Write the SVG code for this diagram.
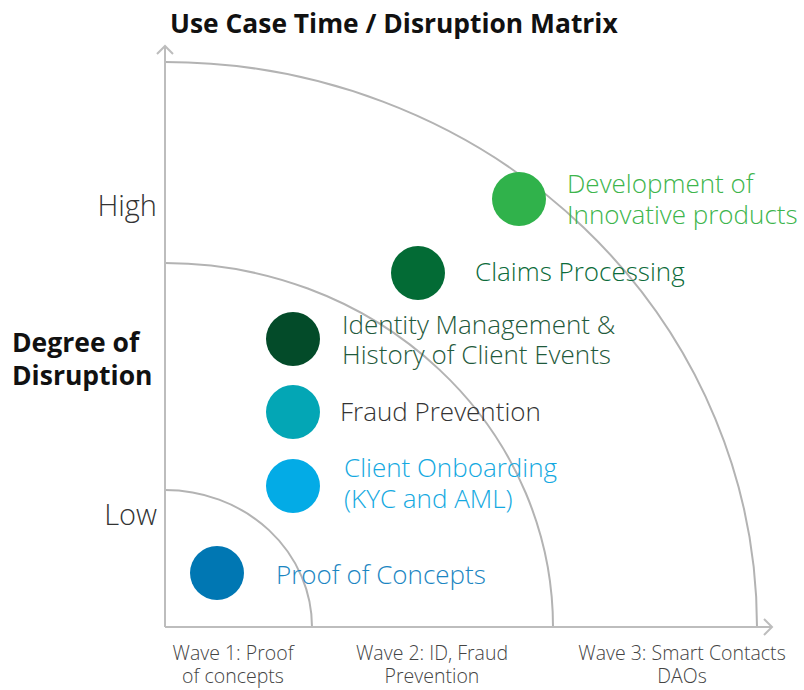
<svg xmlns="http://www.w3.org/2000/svg" width="804" height="690" viewBox="0 0 804 690">
  <style>
    .title { font-family: "Open Sans", "Liberation Sans", sans-serif; font-weight: 700; fill: #111; }
    .lbl { font-family: "Open Sans", "Liberation Sans", sans-serif; font-weight: 300; font-size: 26px; }
    .axis-lbl { font-family: "Open Sans", "Liberation Sans", sans-serif; font-weight: 300; font-size: 19.5px; fill: #444; text-anchor: middle; }
    .lvl { font-family: "Open Sans", "Liberation Sans", sans-serif; font-weight: 300; font-size: 29px; fill: #333; text-anchor: end; }
    .axis { stroke: #bdbdbd; stroke-width: 2; fill: none; }
    .arc { stroke: #b3b3b3; stroke-width: 2; fill: none; }
  </style>

  <!-- title -->
  <text class="title" x="170" y="33" font-size="26.4">Use Case Time / Disruption Matrix</text>

  <!-- vertical axis labels -->
  <text class="lvl" x="157" y="216">High</text>
  <text class="lvl" x="157" y="525">Low</text>
  <text class="title" font-size="26.5"><tspan x="12" y="352">Degree of</tspan><tspan x="12" y="385">Disruption</tspan></text>

  <!-- axes and wave boundaries -->
  <g id="connectors">
    <path class="arc" d="M165,62 A592,565 0 0 1 757,627"/>
    <path class="arc" d="M165,263 A388,364 0 0 1 553,627"/>
    <path class="arc" d="M165,490 A147,137 0 0 1 312,627"/>
    <path class="axis" d="M165,627 V46 M157,54 L165,46 L173,54"/>
    <path class="axis" d="M165,627 H772 M764,619 L772,627 L764,635"/>
  </g>

  <!-- horizontal axis labels -->
  <text class="axis-lbl"><tspan x="233" y="660">Wave 1: Proof</tspan><tspan x="233" y="683">of concepts</tspan></text>
  <text class="axis-lbl"><tspan x="432" y="660">Wave 2: ID, Fraud</tspan><tspan x="432" y="683">Prevention</tspan></text>
  <text class="axis-lbl"><tspan x="682" y="660">Wave 3: Smart Contacts</tspan><tspan x="682" y="683">DAOs</tspan></text>

  <!-- use cases -->
  <g id="development">
    <circle cx="519" cy="199" r="27" fill="#30b24b"/>
    <text class="lbl" fill="#3db54c"><tspan x="567" y="193">Development of</tspan><tspan x="567" y="224">Innovative products</tspan></text>
  </g>
  <g id="claims">
    <circle cx="418" cy="273" r="27" fill="#036b35"/>
    <text class="lbl" fill="#0b6b3a" x="475" y="281">Claims Processing</text>
  </g>
  <g id="identity">
    <circle cx="293" cy="339" r="27" fill="#034b29"/>
    <text class="lbl" fill="#1f5a3c"><tspan x="342" y="334">Identity Management &amp;</tspan><tspan x="342" y="364">History of Client Events</tspan></text>
  </g>
  <g id="fraud">
    <circle cx="293" cy="412" r="27" fill="#03a6b5"/>
    <text class="lbl" fill="#333" x="340" y="421">Fraud Prevention</text>
  </g>
  <g id="onboarding">
    <circle cx="293" cy="486" r="27" fill="#03abe6"/>
    <text class="lbl" fill="#14a9e1"><tspan x="344" y="477">Client Onboarding</tspan><tspan x="344" y="508">(KYC and AML)</tspan></text>
  </g>
  <g id="poc">
    <circle cx="217" cy="573" r="27" fill="#0077b3"/>
    <text class="lbl" fill="#1b86c2" x="276" y="584">Proof of Concepts</text>
  </g>
</svg>
